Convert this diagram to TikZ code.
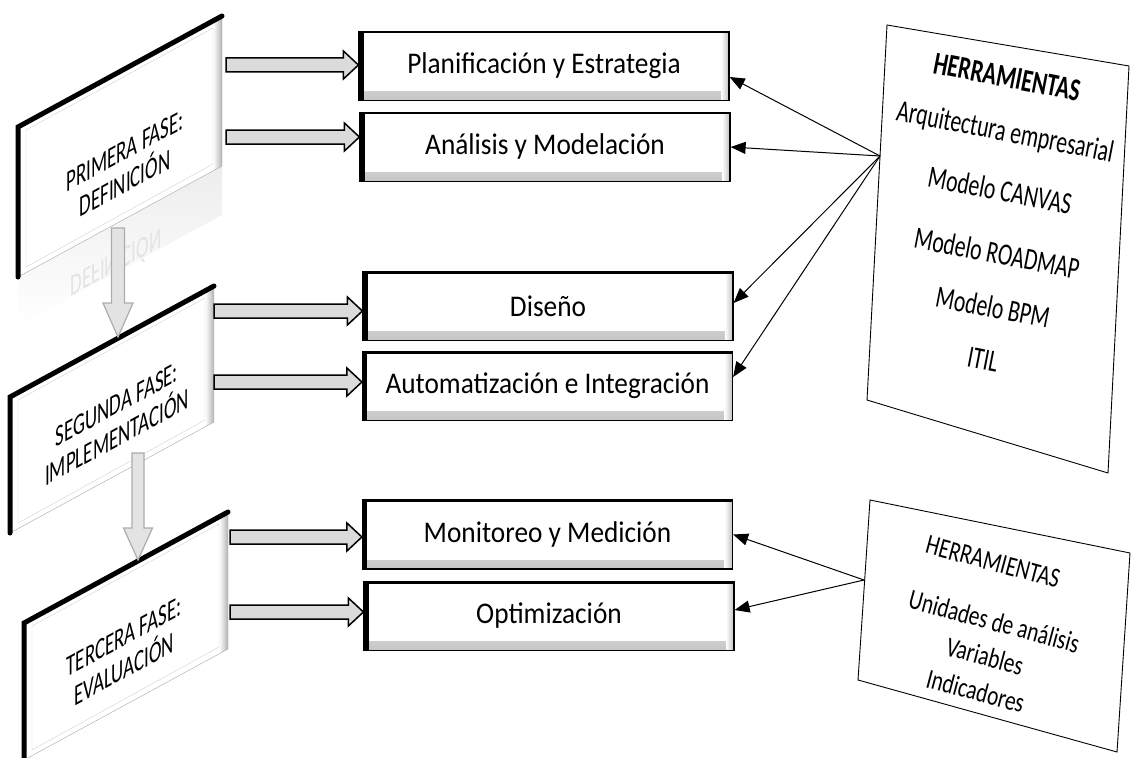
\documentclass[tikz,border=0pt]{standalone}
\usepackage{fontspec}
\setmainfont{Carlito}
\newfontfamily\boxfont[FakeStretch=0.91]{Carlito}
\newfontfamily\fasefont[FakeStretch=0.63]{Carlito}
\newfontfamily\toolfont[FakeStretch=0.7]{Carlito}
\newfontfamily\toolfontb[FakeStretch=0.76]{Carlito}
\usetikzlibrary{calc,arrows.meta}

\tikzset{
  procbox/.style={draw=black, line width=1.2pt, fill=white, minimum width=370pt, minimum height=69pt,
    inner sep=0pt, font=\boxfont\fontsize{30}{32}\selectfont,
    path picture={
      \shade[top color=white, bottom color=gray!45] ([yshift=9pt]path picture bounding box.south west) rectangle (path picture bounding box.south east);
      \shade[left color=white, right color=gray!50] ([xshift=-8pt]path picture bounding box.north east) rectangle (path picture bounding box.south east);
      \fill[black] (path picture bounding box.north west) rectangle ([xshift=4.5pt]path picture bounding box.south west);
      \fill[black] (path picture bounding box.north west) rectangle ([yshift=-2pt]path picture bounding box.north east);
    }},
  fasetxt/.style={align=center, font=\fasefont\fontsize{30}{33}\selectfont, yslant=0.544, inner sep=0pt},
  tooltxt/.style={font=\toolfont\fontsize{31}{34}\selectfont, inner sep=0pt},
  tooltxtb/.style={align=center, font=\toolfontb\fontsize{28}{36}\selectfont, inner sep=0pt},
  toolbox/.style={draw=black, line width=0.9pt, fill=white},
  thinarr/.style={line width=1pt, -{Triangle[length=15pt,width=12pt]}},
  bigarr/.style={fill=gray!28, draw=black, line width=1.5pt},
  downarr/.style={fill=gray!22, draw=gray!65, line width=1.2pt},
}

% block arrow: style, from, to, shaft half width, head half width, head length
\newcommand{\blockarrow}[6]{%
  \path ($(#3)!#6!(#2)$) coordinate (bh);
  \draw[#1] ($(#2)!#4!90:(#3)$) -- ($(bh)!#4!90:(#3)$) -- ($(bh)!#5!90:(#3)$) -- (#3)
    -- ($(bh)!#5!-90:(#3)$) -- ($(bh)!#4!-90:(#3)$) -- ($(#2)!#4!-90:(#3)$) -- cycle;}

% phase panel: top left corner, height, name, text position, text
\newcommand{\fasepanel}[5]{%
  \begin{scope}[shift={#1}]
    \fill[white] (0,0) -- (204,-111) -- (204,{#2-111}) -- (0,#2) -- cycle;
    \shade[left color=white, right color=gray!60] (195,-106) -- (204,-111) -- (204,{#2-111}) -- (195,{#2-106}) -- cycle;
    \draw[gray!35] (8,3) -- (195,-99) -- (195,{#2-113}) -- (8,{#2-10}) -- cycle;
    \draw[gray!70] (0,#2) -- (204,{#2-111}) -- (204,-111);
    \draw[line width=5pt, line cap=round] (0,#2) -- (0,0) -- (204,-111);
    \node[fasetxt] (#3) at #4 {#5};
  \end{scope}}

\begin{document}
\begin{tikzpicture}[x=1pt, y=-1pt]
\useasboundingbox (0,0) rectangle (1131,757);

% reflection under the first phase
\shade[top color=gray!14, bottom color=white] (18,277) -- (222,166) -- (222,215) -- (18,326) -- cycle;
\node[fasetxt, yscale=-1, text=gray!22] (f1r) at (116,265) {DEFINICIÓN};

% phases
\fasepanel{(18,127)}{150}{f1}{(107,40)}{PRIMERA FASE:\\DEFINICIÓN}
\fasepanel{(10,397)}{136}{f2}{(107,24)}{SEGUNDA FASE:\\IMPLEMENTACIÓN}
\fasepanel{(24,623)}{137}{f3}{(100,30)}{TERCERA FASE:\\EVALUACIÓN}

% steps
\node[procbox] (b1) at (544,66) {Planificación y Estrategia};
\node[procbox] (b2) at (545,147) {Análisis y Modelación};
\node[procbox] (b3) at (548,306) {Diseño};
\node[procbox] (b4) at (547.5,386) {Automatización e Integración};
\node[procbox] (b5) at (547.5,534.5) {Monitoreo y Medición};
\node[procbox] (b6) at (549,616) {Optimización};

% arrows from phases to steps
\coordinate (s1) at (226,65);
\coordinate (s2) at (226,137);
\coordinate (s3) at (214,311);
\coordinate (s4) at (214,382);
\coordinate (s5) at (230,537);
\coordinate (s6) at (230,612);
\foreach \i in {1,...,6}{
  \coordinate (e\i) at (b\i.west |- s\i);
  \blockarrow{bigarr}{s\i}{e\i}{7pt}{14pt}{15pt}
}

% arrows between phases
\coordinate (d1a) at (118,228);
\coordinate (d1b) at (118,337);
\coordinate (d2a) at (138,453);
\coordinate (d2b) at (138,560);
\blockarrow{downarr}{d1a}{d1b}{6.5pt}{15pt}{34pt}
\blockarrow{downarr}{d2a}{d2b}{6pt}{14.5pt}{32pt}

% first tools
\draw[toolbox] (887,25) -- (1129,66) -- (1108,473) -- (867,400) -- cycle;
\coordinate (hub1) at (880,156);
\node[tooltxt, font=\toolfont\fontsize{32}{34}\selectfont\bfseries, rotate=-11] (h1) at (1007,77) {HERRAMIENTAS};
\node[tooltxt, rotate=-11] (h1a) at (1005,133) {Arquitectura empresarial};
\node[tooltxt, rotate=-11] (h1b) at (1000,190) {Modelo CANVAS};
\node[tooltxt, rotate=-11] (h1c) at (997,253) {Modelo ROADMAP};
\node[tooltxt, rotate=-11] (h1d) at (993,307) {Modelo BPM};
\node[tooltxt, rotate=-11] (h1e) at (983,360) {ITIL};
\draw[thinarr] (hub1) -- ([yshift=-11pt]b1.east);
\draw[thinarr] (hub1) -- (b2.east);
\draw[thinarr] (hub1) -- ([yshift=3pt]b3.east);
\draw[thinarr] (hub1) -- ([yshift=9pt]b4.east);

% second tools
\draw[toolbox] (870,500) -- (1130,553) -- (1117,752) -- (858,680) -- cycle;
\coordinate (hub2) at (864,580);
\node[tooltxtb, rotate=-15] (h2) at (993,562) {HERRAMIENTAS};
\node[tooltxtb, rotate=-15] (h2a) at (985,656) {Unidades de análisis\\Variables\\Indicadores};
\draw[thinarr] (hub2) -- (b5.east);
\draw[thinarr] (hub2) -- ([yshift=6pt]b6.east);
\end{tikzpicture}
\end{document}
